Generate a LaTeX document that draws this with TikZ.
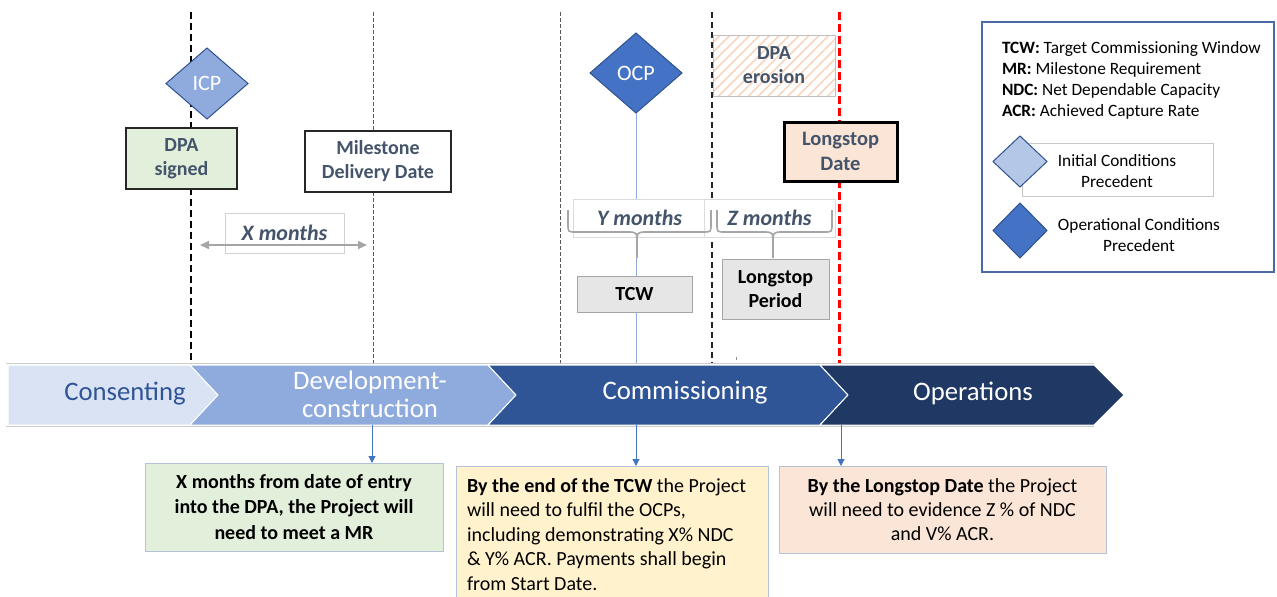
\documentclass[tikz,border=0pt]{standalone}
\usepackage{fontspec}
\setmainfont{Carlito}
\usetikzlibrary{shapes.geometric,arrows.meta,patterns.meta,calc}

\definecolor{slate}{HTML}{44546A}
\definecolor{conbg}{HTML}{DAE3F3}
\definecolor{contxt}{HTML}{2F5597}
\definecolor{devbg}{HTML}{8FAADC}
\definecolor{commbg}{HTML}{2F5597}
\definecolor{opsbg}{HTML}{203864}
\definecolor{icpfill}{HTML}{8FAADC}
\definecolor{cpedge}{HTML}{2F528F}
\definecolor{ocpfill}{HTML}{4472C4}
\definecolor{lightcp}{HTML}{B4C7E7}
\definecolor{greenbg}{HTML}{E2EFDA}
\definecolor{yellowbg}{HTML}{FFF2CC}
\definecolor{peachbg}{HTML}{FBE5D6}
\definecolor{greybg}{HTML}{E7E6E6}
\definecolor{hatchc}{HTML}{F8CBAD}
\definecolor{softedge}{HTML}{B4C2D8}
\definecolor{arrowblue}{HTML}{4472C4}
\definecolor{legendedge}{HTML}{4A6AA5}
\definecolor{bracegrey}{HTML}{A6A6A6}

\newcommand\setfs[2]{\fontsize{#1}{#2}\selectfont}

\begin{document}
\begin{tikzpicture}[x=1pt,y=-1pt,
  every node/.style={inner sep=0pt, outer sep=0pt},
  datebox/.style={draw=black!85, line width=1.5pt, text=slate, align=center,
    font=\setfs{20}{24}\bfseries},
  monthbox/.style={draw=black!18, line width=0.8pt, fill=white, text=slate,
    font=\setfs{22}{26}\bfseries\itshape},
  periodbox/.style={draw=bracegrey, line width=0.8pt, fill=greybg, text=black,
    align=center, font=\setfs{20}{24}\bfseries},
  cpdiamond/.style={diamond, draw=cpedge, line width=1pt, text=white,
    font=\setfs{22}{26}},
  phase/.style={draw=white, line width=1pt},
  phasetext/.style={text=white, align=center, font=\setfs{26.7}{28}},
  notebox/.style={draw=softedge, line width=1pt, text=black,
    font=\setfs{20}{24.3}},
  downarrow/.style={draw=arrowblue, line width=1pt, -{Triangle[length=7pt,width=7pt]}},
  legendtext/.style={anchor=base west, font=\setfs{17.3}{21}},
  spanbrace/.style={draw=bracegrey, line width=1.6pt},
]
\useasboundingbox (0,0) rectangle (1277,597);

% ---------- key dates (vertical markers) ----------
\coordinate (dpaT) at (191,12);  \coordinate (dpaB) at (191,364);
\coordinate (mddT) at (373,12);  \coordinate (mddB) at (373,364);
\coordinate (tcwT) at (560,12);  \coordinate (tcwB) at (560,364);
\coordinate (lspT) at (712,12);  \coordinate (lspB) at (712,364);
\coordinate (lsdT) at (839,12);  \coordinate (lsdB) at (839,364);
\draw[black, line width=2.8pt, dash pattern=on 7pt off 4pt] (dpaT) -- (dpaB);
\draw[black!65, line width=0.9pt, dash pattern=on 4pt off 2pt] (mddT) -- (mddB);
\draw[black!65, line width=0.9pt, dash pattern=on 4pt off 2pt] (tcwT) -- (tcwB);
\draw[black!85, line width=1.4pt, dash pattern=on 6pt off 4pt] (lspT) -- (lspB);
\draw[red, line width=3pt, dash pattern=on 8pt off 4pt] (lsdT) -- (lsdB);
\coordinate (tickT) at (736,357); \coordinate (tickB) at (736,360);
\draw[black!45, line width=1pt] (tickT) -- (tickB);

% ---------- conditions precedent ----------
\node[cpdiamond, fill=icpfill, minimum width=82pt, minimum height=71pt] (icp) at (207,83.5) {ICP};
\node[cpdiamond, fill=ocpfill, minimum width=92pt, minimum height=80pt] (ocp) at (636,73) {OCP};
\coordinate (ocpfoot) at (636,364);
\draw[devbg, line width=1pt] (ocp.south) -- (ocpfoot);

% ---------- date boxes ----------
\node[datebox, fill=greenbg, minimum width=111pt, minimum height=61pt] (signed) at (181.5,158.5) {DPA\\signed};
\node[datebox, fill=white, minimum width=146pt, minimum height=61pt] (mdd) at (378,161.5) {Milestone\\Delivery Date};

\node[draw=black!25, line width=0.8pt, pattern={Lines[angle=45,distance=7pt,line width=1.6pt]},
  pattern color=hatchc!80, minimum width=122pt, minimum height=61pt] (erosion) at (774,65.5) {};
\node[text=slate, align=center, font=\setfs{20}{24}\bfseries] (erosiontxt) at (erosion.center) {DPA\\erosion};

\node[draw=black, line width=3pt, fill=peachbg, text=slate, align=center,
  font=\setfs{20.5}{25}\bfseries, minimum width=113pt, minimum height=59pt] (lsd) at (840.5,151.5) {Longstop\\Date};

% ---------- X months span ----------
\node[monthbox, minimum width=119pt, minimum height=40pt] (xm) at (284.5,233) {X months};
\coordinate (xmL) at (200,245); \coordinate (xmR) at (367,245);
\draw[bracegrey, line width=2pt, {Triangle[length=9pt,width=8pt]}-{Triangle[length=9pt,width=8pt]}] (xmL) -- (xmR);

% ---------- Y and Z months spans ----------
\node[monthbox, draw=black!14, minimum width=133pt, minimum height=38pt] (ym) at (639.5,218) {Y months};
\node[monthbox, draw=black!14, minimum width=131pt, minimum height=38pt] (zm) at (769.5,218) {Z months};
\coordinate (ybl) at (568,210); \coordinate (ybr) at (711,210); \coordinate (ytip) at (637,258);
\coordinate (zbl) at (717,210); \coordinate (zbr) at (832,210); \coordinate (ztip) at (773,258);
% each brace: two halves meeting in a downward point
\draw[spanbrace] (ybl) -- ($(ybl)+(0,14)$) .. controls ($(ybl)+(0,22)$) .. ($(ybl)+(8,22)$)
  -- ($(ytip)+(-10,-26)$) .. controls ($(ytip)+(0,-26)$) .. ($(ytip)+(0,-14)$) -- (ytip);
\draw[spanbrace] (ybr) -- ($(ybr)+(0,14)$) .. controls ($(ybr)+(0,22)$) .. ($(ybr)+(-8,22)$)
  -- ($(ytip)+(10,-26)$) .. controls ($(ytip)+(0,-26)$) .. ($(ytip)+(0,-14)$);
\draw[spanbrace] (zbl) -- ($(zbl)+(0,14)$) .. controls ($(zbl)+(0,22)$) .. ($(zbl)+(8,22)$)
  -- ($(ztip)+(-10,-26)$) .. controls ($(ztip)+(0,-26)$) .. ($(ztip)+(0,-14)$) -- (ztip);
\draw[spanbrace] (zbr) -- ($(zbr)+(0,14)$) .. controls ($(zbr)+(0,22)$) .. ($(zbr)+(-8,22)$)
  -- ($(ztip)+(10,-26)$) .. controls ($(ztip)+(0,-26)$) .. ($(ztip)+(0,-14)$);

\node[periodbox, minimum width=115pt, minimum height=36pt] (tcw) at (634.5,294) {TCW};
\node[periodbox, minimum width=107pt, minimum height=60pt] (lsp) at (775.5,289) {Longstop\\Period};

% ---------- project phases ----------
\draw[black!20, line width=0.8pt] (6,363.5) -- (1094,363.5);
\draw[black!20, line width=0.8pt] (6,426.5) -- (1094,426.5);
\fill[conbg, phase] (8,365) -- (190,365) -- (218,395) -- (190,425) -- (8,425) -- cycle;
\fill[devbg, phase] (190,365) -- (488,365) -- (516,395) -- (488,425) -- (190,425) -- (218,395) -- cycle;
\fill[commbg, phase] (488,365) -- (820,365) -- (848,395) -- (820,425) -- (488,425) -- (516,395) -- cycle;
\fill[opsbg, phase] (820,365) -- (1094,365) -- (1124,395) -- (1094,425) -- (820,425) -- (848,395) -- cycle;

\node[phasetext, text=contxt] (consent) at (125,394) {Consenting};
\node[phasetext] (devcon) at (370,394) {Development-\\construction};
\node[phasetext] (comm) at (685,393) {Commissioning};
\node[phasetext] (ops) at (973,393) {Operations};

% ---------- requirement notes ----------
\node[notebox, fill=greenbg, align=center, font=\setfs{20}{25.5}\bfseries,
  minimum width=298pt, minimum height=88pt] (mr) at (294,507)
  {X months from date of entry\\into the DPA, the Project will\\need to meet a MR};
\path[notebox, fill=yellowbg] (456,466) rectangle (768,602);
\node[anchor=north west, align=left, font=\setfs{20}{24.6}, text=black] (tcwnote) at (467,478)
  {\textbf{By the end of the TCW} the Project\\will need to fulfil the OCPs,\\including demonstrating X\% NDC\\\& Y\% ACR. Payments shall begin\\from Start Date.};
\node[notebox, fill=peachbg, align=center, minimum width=327pt, minimum height=87pt] (lsdnote) at (942.5,509.5)
  {\textbf{By the Longstop Date} the Project\\will need to evidence Z \% of NDC\\and V\% ACR.};

\coordinate (devfoot) at (372,425);
\coordinate (commfoot) at (636,425);
\coordinate (opsfoot) at (841,425);
\draw[downarrow] (devfoot) -- (devfoot |- mr.north);
\draw[downarrow] (commfoot) -- (636,466);
\draw[downarrow] (opsfoot) -- (opsfoot |- lsdnote.north);

% ---------- legend ----------
\node[draw=legendedge, line width=1.5pt, minimum width=292pt, minimum height=250pt] (legend) at (1128,147) {};
\node[legendtext] (l1) at (1002,53.3) {\textbf{TCW:} Target Commissioning Window};
\node[legendtext] (l2) at (1002,74) {\textbf{MR:} Milestone Requirement};
\node[legendtext] (l3) at (1002,95) {\textbf{NDC:} Net Dependable Capacity};
\node[legendtext] (l4) at (1002,116) {\textbf{ACR:} Achieved Capture Rate};
\node[draw=black!22, line width=0.8pt, minimum width=191pt, minimum height=53pt] (icpkeybox) at (1117.5,169.5) {};
\node[diamond, draw=cpedge, line width=1pt, fill=lightcp, minimum width=54pt, minimum height=51pt] (icpkey) at (1020,161.5) {};
\node[align=center, font=\setfs{17.3}{21}] (icptxt) at (1117,171) {Initial Conditions\\Precedent};
\node[diamond, draw=cpedge, line width=1pt, fill=ocpfill, minimum width=54pt, minimum height=55pt] (ocpkey) at (1020,230.5) {};
\node[align=center, font=\setfs{17.3}{21}] (ocptxt) at (1139,235) {Operational Conditions\\Precedent};
\end{tikzpicture}
\end{document}
